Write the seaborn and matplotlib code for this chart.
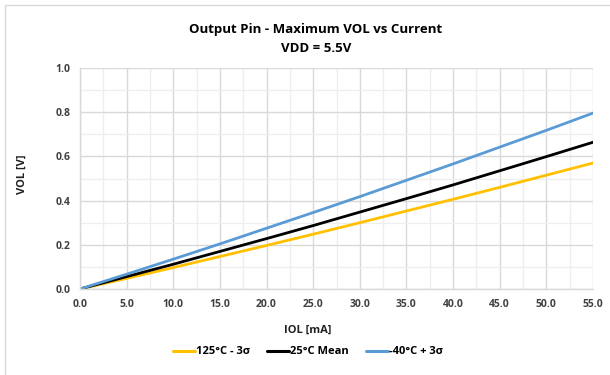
import numpy as np
import pandas as pd
import matplotlib
matplotlib.use("Agg")
import matplotlib.pyplot as plt
import seaborn as sns
from matplotlib.lines import Line2D

# data
current_ma = [0, 5, 10, 15, 20, 25, 30, 35, 40, 45, 50, 55]
vol_hot = [0, 0.048, 0.097, 0.147, 0.197, 0.248, 0.300, 0.353, 0.406, 0.460, 0.515, 0.570]
vol_mean = [0, 0.056, 0.112, 0.170, 0.228, 0.287, 0.348, 0.409, 0.471, 0.535, 0.599, 0.664]
vol_cold = [0, 0.067, 0.135, 0.204, 0.275, 0.346, 0.418, 0.492, 0.566, 0.642, 0.718, 0.796]
series_names = ["125°C - 3σ", "25°C Mean", "-40°C + 3σ"]
series_colors = ["#FFC000", "#000000", "#5B9BD5"]

df = pd.DataFrame({
    "IOL": current_ma * 3,
    "VOL": vol_hot + vol_mean + vol_cold,
    "series": [series_names[0]] * 12 + [series_names[1]] * 12 + [series_names[2]] * 12,
})

sns.set_style("white")
plt.rcParams["font.family"] = ["Open Sans", "DejaVu Sans"]
plt.rcParams["text.color"] = "black"

fig = plt.figure(figsize=(6.1, 3.75), dpi=100)
ax = fig.add_axes([80 / 610, 1 - 289 / 375, 513 / 610, 221 / 375])

sns.lineplot(data=df, x="IOL", y="VOL", hue="series", palette=series_colors,
             hue_order=series_names, linewidth=2.0, ax=ax, legend=False)

ax.set_xlim(0, 55)
ax.set_ylim(0, 1.0)
ax.set_xticks(np.arange(0, 55.1, 5))
ax.set_xticks(np.arange(0, 55.1, 2.5), minor=True)
ax.set_yticks(np.arange(0, 1.01, 0.2))
ax.set_yticks(np.arange(0, 1.01, 0.1), minor=True)
ax.set_xticklabels([f"{v:.1f}" for v in np.arange(0, 55.1, 5)])
ax.set_yticklabels([f"{v:.1f}" for v in np.arange(0, 1.01, 0.2)])
ax.grid(which="major", color="#d9d9d9", linewidth=1.0)
ax.grid(which="minor", color="#eeeeee", linewidth=0.9)
ax.set_axisbelow(True)
for s in ["top", "right"]:
    ax.spines[s].set_visible(False)
for s in ["left", "bottom"]:
    ax.spines[s].set_color("#d9d9d9")
    ax.spines[s].set_linewidth(1.0)
ax.tick_params(which="both", length=3, color="#d9d9d9", width=0.8)
ax.tick_params(which="major", labelsize=7.5, labelcolor="#404040", pad=4)
for lab in ax.get_xticklabels() + ax.get_yticklabels():
    lab.set_fontweight("bold")
ax.set_xlabel("")
ax.set_ylabel("")

fig.text(316 / 610, 1 - 29 / 375, "Output Pin - Maximum VOL vs Current",
         ha="center", va="center", fontsize=9.5, fontweight="bold")
fig.text(316 / 610, 1 - 48 / 375, "VDD = 5.5V",
         ha="center", va="center", fontsize=9.5, fontweight="bold")
fig.text(22 / 610, 1 - 174 / 375, "VOL [V]", rotation=90,
         ha="center", va="center", fontsize=8, fontweight="bold", color="#202020")
fig.text(308 / 610, 1 - 330 / 375, "IOL [mA]",
         ha="center", va="center", fontsize=8, fontweight="bold", color="#202020")

handles = [Line2D([], [], color=c, linewidth=2.2) for c in series_colors]
fig.legend(handles, series_names, loc="center", bbox_to_anchor=(308 / 610, 1 - 352 / 375),
           ncol=3, frameon=False, handlelength=2.0, handletextpad=0.1, columnspacing=1.5,
           prop={"weight": "bold", "size": 8})

# outer chart border (top and left edges visible)
fig.add_artist(Line2D([5 / 610, 1], [1 - 5 / 375, 1 - 5 / 375], color="#d9d9d9", linewidth=1.0))
fig.add_artist(Line2D([5 / 610, 5 / 610], [0, 1 - 5 / 375], color="#d9d9d9", linewidth=1.0))

fig.savefig("out.png", dpi=100)
